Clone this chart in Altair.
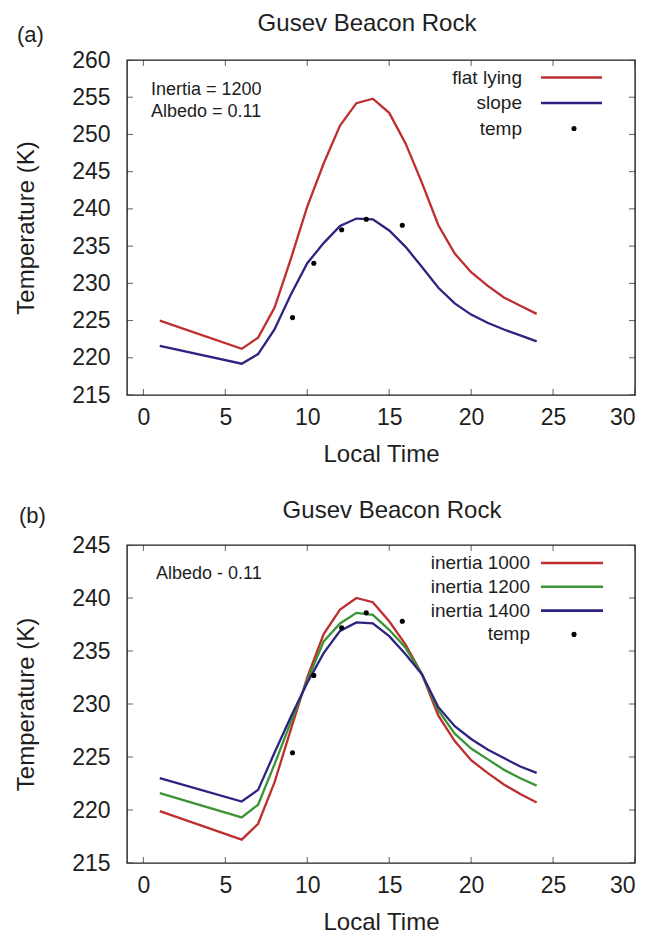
import altair as alt
import pandas as pd

FONT = "Liberation Sans"
INK = "#1e1e1e"

# ---------------- data ----------------
hours = [1, 6, 7, 8, 9, 10, 11, 12, 13, 14, 15, 16, 17, 18, 19, 20, 21, 22, 23, 24]

# panel (a)
flat_lying = [225.0, 221.2, 222.7, 226.7, 233.3, 240.3, 246.1, 251.2, 254.2, 254.8,
              252.9, 248.8, 243.5, 237.8, 234.0, 231.5, 229.7, 228.1, 227.0, 225.9]
slope = [221.6, 219.2, 220.5, 223.8, 228.5, 232.7, 235.4, 237.7, 238.7, 238.6,
         237.1, 234.9, 232.2, 229.4, 227.3, 225.8, 224.7, 223.8, 223.0, 222.2]

# panel (b)
inertia_1000 = [219.9, 217.2, 218.7, 222.6, 227.6, 232.5, 236.6, 238.9, 240.0, 239.6,
                237.8, 235.6, 232.8, 228.9, 226.5, 224.7, 223.5, 222.4, 221.5, 220.7]
inertia_1200 = [221.6, 219.3, 220.5, 224.3, 228.3, 232.2, 235.9, 237.6, 238.6, 238.4,
                237.0, 235.3, 232.8, 229.4, 227.2, 225.8, 224.8, 223.8, 223.0, 222.3]
inertia_1400 = [223.0, 220.8, 221.9, 225.4, 228.8, 232.0, 234.8, 236.9, 237.7, 237.6,
                236.4, 234.7, 232.8, 229.7, 227.9, 226.7, 225.7, 224.9, 224.1, 223.5]

# measured temperatures
temp_time = [9.1, 10.4, 12.1, 13.6, 15.8]
temp_value = [225.4, 232.7, 237.2, 238.6, 237.8]

x_ticks = [0, 5, 10, 15, 20, 25, 30]
y_ticks_a = [215, 220, 225, 230, 235, 240, 245, 250, 255, 260]
y_ticks_b = [215, 220, 225, 230, 235, 240, 245]

RED = "#bf2e2e"
GREEN = "#3c9436"
BLUE = "#2c2480"


def panel(series, names, colors, ydom, yticks, width, height, tag, tag_pos,
          title_pos, notes, legend_cfg):
    xscale = alt.Scale(domain=[-1, 30], nice=False, zero=False)
    yscale = alt.Scale(domain=ydom, nice=False, zero=False)
    xaxis = alt.Axis(values=x_ticks, title="Local Time", ticks=False, domain=False,
                     grid=False, labelPadding=11, titlePadding=13)
    yaxis = alt.Axis(values=yticks, title="Temperature (K)", ticks=False, domain=False,
                     grid=False, labelPadding=17, titlePadding=33)
    X = alt.X("hour:Q", scale=xscale, axis=xaxis)
    Y = alt.Y("temp:Q", scale=yscale, axis=yaxis)

    layers = []
    for name, vals, col in zip(names, series, colors):
        d = pd.DataFrame({"hour": hours, "temp": vals, "series": name})
        layers.append(alt.Chart(d).mark_line(strokeWidth=2.3, color=col).encode(x=X, y=Y))

    layers.append(
        alt.Chart(pd.DataFrame({"hour": temp_time, "temp": temp_value}))
        .mark_circle(size=26, color="black", opacity=1)
        .encode(x=X, y=Y)
    )

    # inward mirrored ticks (centred ticks clipped to the frame)
    xt = pd.DataFrame([{"hour": t, "temp": e} for t in x_ticks for e in ydom])
    layers.append(alt.Chart(xt).mark_tick(orient="vertical", size=12, thickness=1,
                                          color=INK, clip=True).encode(x=X, y=Y))
    yt = pd.DataFrame([{"hour": e, "temp": t} for t in yticks for e in [-1, 30]])
    layers.append(alt.Chart(yt).mark_tick(orient="horizontal", size=12, thickness=1,
                                          color=INK, clip=True).encode(x=X, y=Y))

    one = pd.DataFrame({"a": [0]})

    def text(txt, x, y, size, align):
        return alt.Chart(one).mark_text(text=txt, fontSize=size, font=FONT, align=align,
                                        baseline="middle", color=INK).encode(
            x=alt.value(x), y=alt.value(y))

    # title and panel tag
    layers.append(text("Gusev Beacon Rock", title_pos[0], title_pos[1], 24, "center"))
    layers.append(text(tag, tag_pos[0], tag_pos[1], 22, "left"))
    # annotations
    for txt, (nx, ny) in notes:
        layers.append(text(txt, nx, ny, 18, "left"))
    # legend
    tx, lx0, lx1, dotx, y0, dy = legend_cfg
    for i, (name, col) in enumerate(zip(names, colors)):
        yy = y0 + i * dy
        layers.append(text(name, tx, yy, 19, "right"))
        layers.append(alt.Chart(one).mark_rule(strokeWidth=2.6, color=col).encode(
            x=alt.value(lx0), x2=alt.value(lx1), y=alt.value(yy)))
    yy = y0 + len(names) * dy
    layers.append(text("temp", tx, yy, 19, "right"))
    layers.append(alt.Chart(one).mark_circle(size=26, color="black", opacity=1).encode(
        x=alt.value(dotx), y=alt.value(yy)))

    return alt.layer(*layers).properties(width=width, height=height)


top = panel([flat_lying, slope], ["flat lying", "slope"], [RED, BLUE],
            [215, 260], y_ticks_a, 508, 335, "(a)", (-110, -25), (240, -36.5),
            [("Inertia = 1200", (24, 30)), ("Albedo = 0.11", (24, 52))],
            (395, 414, 475, 447, 17.5, 25.5))

bottom = panel([inertia_1000, inertia_1200, inertia_1400],
               ["inertia 1000", "inertia 1200", "inertia 1400"], [RED, GREEN, BLUE],
               [215, 245], y_ticks_b, 508, 318, "(b)", (-108, -29), (265, -34),
               [("Albedo - 0.11", (29, 29))],
               (403, 414, 476, 447, 18, 23.8))

chart = alt.concat(top, bottom, columns=1, spacing=31).properties(
    padding={"left": 5, "top": 2, "right": 0, "bottom": 0}
).configure_view(
    stroke=INK, strokeWidth=1.4
).configure_axis(
    labelFont=FONT, titleFont=FONT, labelFontSize=23, titleFontSize=24,
    labelColor=INK, titleColor=INK, titleFontWeight="normal",
)

chart.save("out.html", embed_options={"renderer": "svg", "actions": False})
